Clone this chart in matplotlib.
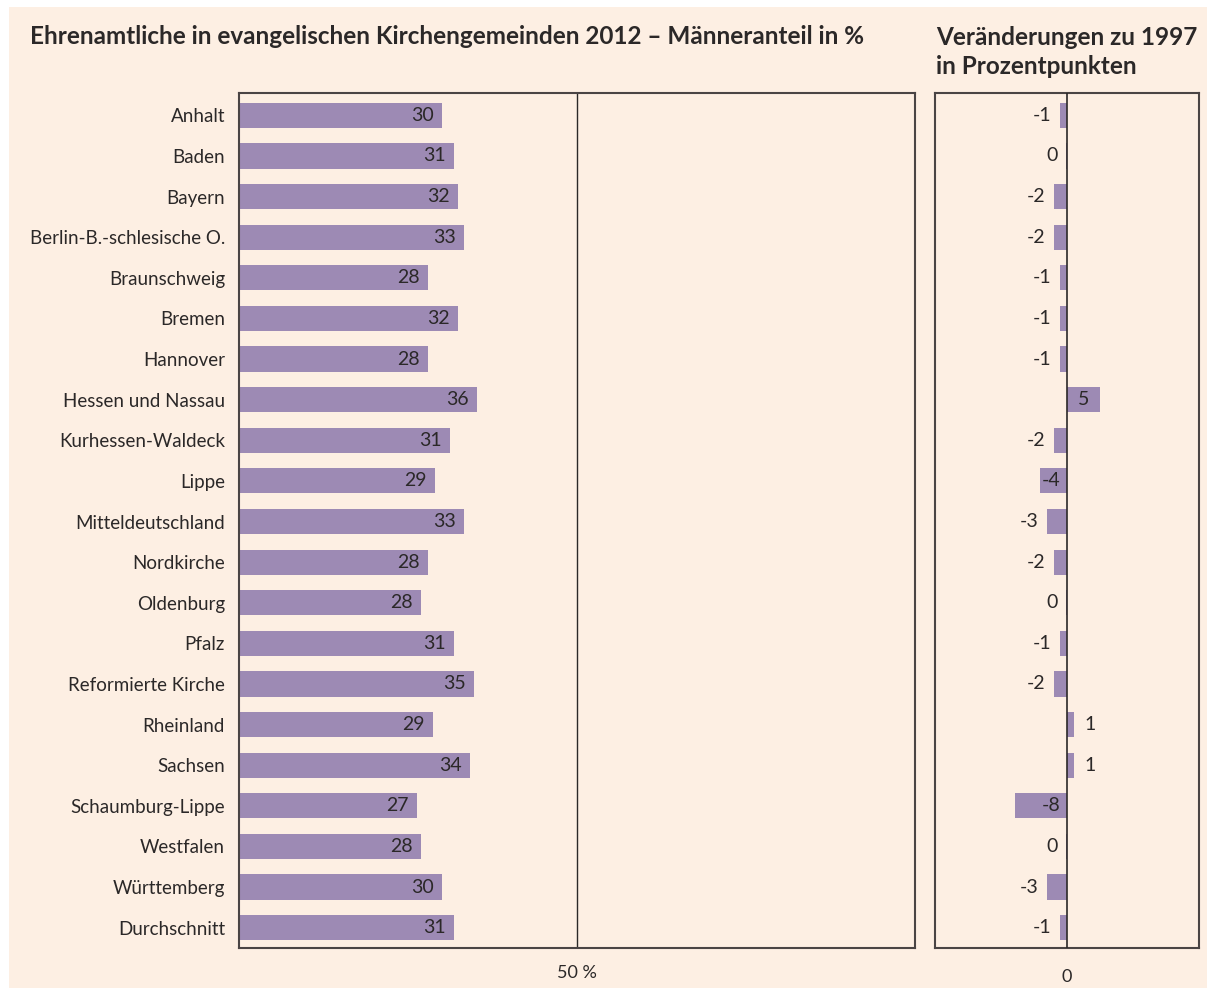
import matplotlib.pyplot as plt
from matplotlib.patches import Rectangle

# data
regions = ['Anhalt', 'Baden', 'Bayern', 'Berlin-B.-schlesische O.', 'Braunschweig',
           'Bremen', 'Hannover', 'Hessen und Nassau', 'Kurhessen-Waldeck', 'Lippe',
           'Mitteldeutschland', 'Nordkirche', 'Oldenburg', 'Pfalz', 'Reformierte Kirche',
           'Rheinland', 'Sachsen', 'Schaumburg-Lippe', 'Westfalen', 'Württemberg',
           'Durchschnitt']
# printed labels
share_labels = [30, 31, 32, 33, 28, 32, 28, 36, 31, 29, 33, 28, 28, 31, 35, 29, 34, 27, 28, 30, 31]
change_labels = [-1, 0, -2, -2, -1, -1, -1, 5, -2, -4, -3, -2, 0, -1, -2, 1, 1, -8, 0, -3, -1]
# bar lengths as drawn in the picture
share_bars = [30.0, 31.8, 32.4, 33.3, 28.0, 32.4, 28.0, 35.2, 31.2, 29.0, 33.3,
              28.0, 26.9, 31.8, 34.8, 28.7, 34.2, 26.3, 26.9, 30.0, 31.8]
change_bars = [-1.1, -0.2, -2.0, -2.0, -1.1, -1.1, -1.1, 5.0, -2.0, -4.1, -3.0,
               -2.0, -0.2, -1.1, -2.0, 1.0, 1.0, -7.9, -0.2, -3.0, -1.1]

title_left = 'Ehrenamtliche in evangelischen Kirchengemeinden 2012 – Männeranteil in %'
title_right = 'Veränderungen zu 1997\nin Prozentpunkten'

BG = '#fdefe3'
BAR = '#9d8ab4'
TXT = '#2b2828'
SPINE = '#4a4444'

plt.rcParams['font.family'] = ['Lato', 'DejaVu Sans']

W, H = 1207, 990
fig = plt.figure(figsize=(W / 100, H / 100), dpi=100)
fig.patch.set_facecolor('white')
fig.patches.append(Rectangle((9 / W, 2 / H), 1 - 9 / W, 1 - 9 / H,
                             transform=fig.transFigure, facecolor=BG, edgecolor='none', zorder=-10))

ax1 = fig.add_axes([239 / W, 42 / H, 676 / W, 855 / H])
ax2 = fig.add_axes([935 / W, 42 / H, 264 / W, 855 / H])

y = list(range(len(regions)))

for ax in (ax1, ax2):
    ax.set_facecolor(BG)
    for s in ax.spines.values():
        s.set_color(SPINE)
        s.set_linewidth(1.5)
    ax.set_ylim(len(regions) - 0.5, -0.55)
    ax.tick_params(length=0, colors=TXT, labelsize=13, pad=12)

# left panel
ax1.barh(y, share_bars, height=0.62, color=BAR, zorder=2)
ax1.axvline(50, color=TXT, lw=1, zorder=1)
ax1.set_xlim(0, 100)
ax1.set_xticks([50])
ax1.set_xticklabels(['50 %'])
ax1.set_yticks(y)
ax1.set_yticklabels(regions, fontsize=13.5)
ax1.tick_params(axis='y', pad=10)
for yi, v, lab in zip(y, share_bars, share_labels):
    ax1.annotate(str(lab), (v, yi), xytext=(-6, 0), textcoords='offset points',
                 ha='right', va='center', fontsize=14, color=TXT, zorder=3)

# right panel
ax2.barh(y, change_bars, height=0.62, color=BAR, zorder=2)
ax2.axvline(0, color=TXT, lw=1.2, zorder=3)
ax2.set_xlim(-20, 20)
ax2.set_xticks([0])
ax2.tick_params(axis='x', pad=15)
ax2.set_yticks([])
for yi, v, lab in zip(y, change_bars, change_labels):
    if lab <= -4:
        x, dx, ha = 0, -5, 'right'
    elif lab <= 0:
        x, dx, ha = v, -6, 'right'
    elif lab >= 4:
        x, dx, ha = 0, 8, 'left'
    else:
        x, dx, ha = v, 8, 'left'
    ax2.annotate(str(lab), (x, yi), xytext=(dx, 0), textcoords='offset points',
                 ha=ha, va='center', fontsize=14, color=TXT, zorder=4)

fig.text(30 / W, 1 - 37 / H, title_left, fontsize=17.5, fontweight='bold',
         color=TXT, va='center', ha='left')
fig.text(936 / W, 1 - 52 / H, title_right, fontsize=17.5, fontweight='bold',
         color=TXT, va='center', ha='left', linespacing=1.3)

fig.savefig('out.png', dpi=100, facecolor=fig.get_facecolor())
